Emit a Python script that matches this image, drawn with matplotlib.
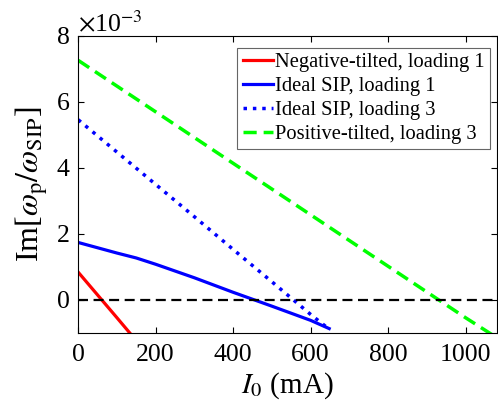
import matplotlib
matplotlib.use("Agg")
import matplotlib.pyplot as plt

plt.rcParams['font.family'] = ['Liberation Serif', 'DejaVu Serif']
plt.rcParams['mathtext.fontset'] = 'stix'

# values of Im[w_p/w_SIP] in units of 1e-3
neg1_x = [0, 50, 100, 133]
neg1_y = [0.84, 0.15, -0.54, -1.0]

ideal1_x = [0, 50, 100, 150, 200, 300, 400, 450, 500, 600, 648]
ideal1_y = [1.74, 1.58, 1.42, 1.27, 1.08, 0.67, 0.23, 0.02, -0.19, -0.62, -0.87]

ideal3_x = [0, 100, 200, 300, 400, 500, 600, 648]
ideal3_y = [5.46, 4.48, 3.50, 2.52, 1.53, 0.55, -0.44, -0.89]

pos3_x = [0, 200, 400, 600, 800, 1000, 1068]
pos3_y = [7.26, 5.70, 4.14, 2.58, 1.02, -0.54, -1.05]

xticks = [0, 200, 400, 600, 800, 1000]
yticks = [0, 2, 4, 6, 8]

fig = plt.figure(figsize=(4.98, 4.13), dpi=100)
ax = fig.add_axes([0.157, 0.194, 0.84, 0.719])

ax.plot(neg1_x, neg1_y, color=(1, 0, 0), lw=2.3, label='Negative-tilted, loading 1')
ax.plot(ideal1_x, ideal1_y, color=(0, 0, 1), lw=2.3, label='Ideal SIP, loading 1')
ax.plot(ideal3_x, ideal3_y, color=(0, 0, 1), lw=2.5, ls=(0, (1, 1.7)), label='Ideal SIP, loading 3')
ax.plot(pos3_x, pos3_y, color=(0, 1, 0), lw=2.5, ls=(0, (3.8, 2)), label='Positive-tilted, loading 3')
ax.plot([0, 1080], [0, 0], color='k', lw=1.6, ls=(0, (4.5, 2.5)))

ax.set_xlim(0, 1080)
ax.set_ylim(-1, 8)
ax.set_xticks(xticks)
ax.set_yticks(yticks)
ax.tick_params(direction='in', top=True, right=True, labelsize=18.5, length=4, width=0.8)
ax.tick_params(axis='y', pad=6)
ax.tick_params(axis='x', pad=8)
for s in ax.spines.values():
    s.set_linewidth(0.8)

ax.set_xlabel(r'$I_\mathrm{0}$ (mA)', fontsize=21, labelpad=3)
ax.set_ylabel(r'Im[$\omega_\mathrm{p}/\omega_\mathrm{SIP}$]', fontsize=23, labelpad=5)
ax.text(0.0, 1.013, r'$\times$10$^{\mathrm{-3}}$', transform=ax.transAxes, fontsize=18.5,
        ha='left', va='baseline')

leg = ax.legend(loc='upper right', fontsize=14.8, handlelength=1.5, handletextpad=0.1,
                borderpad=0.25, labelspacing=0.22, fancybox=False,
                bbox_to_anchor=(0.985, 0.96), borderaxespad=0,
                framealpha=1, edgecolor='0.4')
leg.get_frame().set_linewidth(0.8)

fig.savefig('out.png', dpi=100)
